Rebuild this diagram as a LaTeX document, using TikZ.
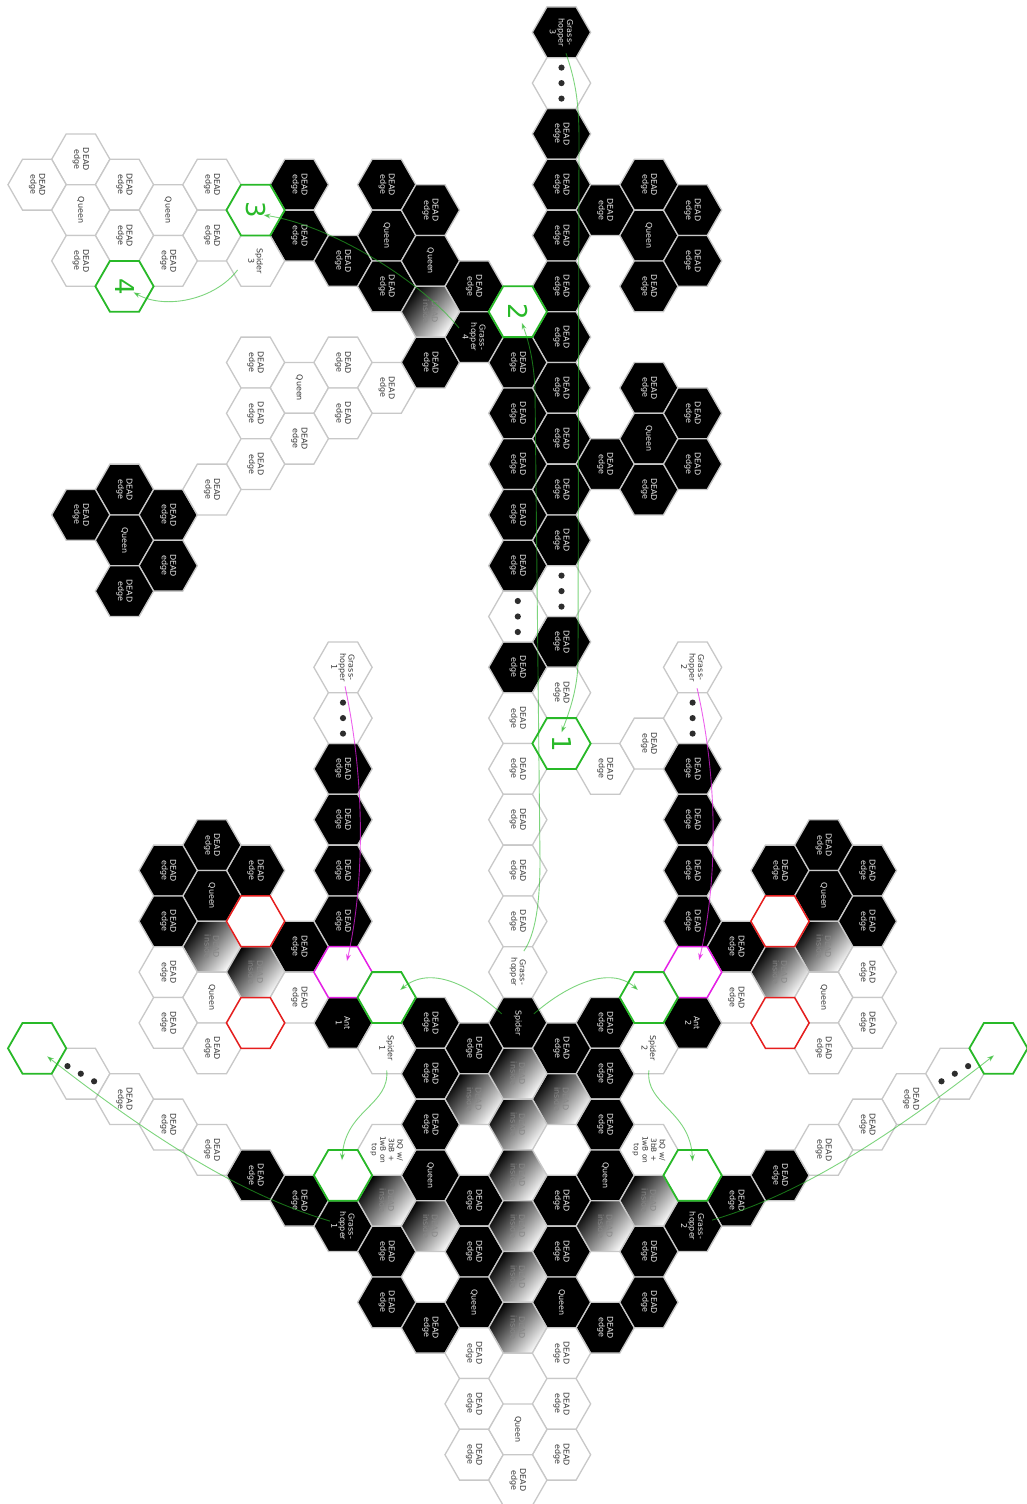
\documentclass[tikz,border=0pt]{standalone}
\usepackage{fontspec}
\setmainfont{DejaVu Sans}
\usetikzlibrary{arrows.meta}
\definecolor{hexgray}{RGB}{200,200,200}
\definecolor{txtgray}{RGB}{55,55,55}
\definecolor{hgreen}{RGB}{40,185,40}
\definecolor{hred}{RGB}{230,30,30}
\definecolor{hmag}{RGB}{230,30,230}
\definecolor{dotc}{RGB}{45,45,45}
\definecolor{insidetxt}{RGB}{135,135,135}
\newcommand\lblfont{\fontsize{8}{8.6}\selectfont}
\newcommand\smallfont{\fontsize{7.4}{7.9}\selectfont}
\newcommand\bignum{\fontsize{26}{26}\selectfont}
\newcommand\DE{DEAD\\edge}
\newcommand\DI{DEAD\\inside}
\newcommand\hexcell[4]{%
 \pgfmathsetmacro\hcX{561.5+43.7*(#1)}%
 \pgfmathsetmacro\hcY{32.3+25.4*(#2)}%
 \path[#3] (\hcX-29.13,\hcY) -- (\hcX-14.57,\hcY-25.4) -- (\hcX+14.57,\hcY-25.4) -- (\hcX+29.13,\hcY) -- (\hcX+14.57,\hcY+25.4) -- (\hcX-14.57,\hcY+25.4) -- cycle;
 \node[lbl,#3 lbl] (h#1y#2) at (\hcX,\hcY) {#4};
}
\newcommand\dotsvert[1]{\foreach \dd in {-15.5,0,15.5} {\fill[dotc] ([yshift=\dd pt]#1.center) circle (3.1);}}
\newcommand\dotsdiag[3]{\foreach \kk in {-1,0,1} {\fill[dotc] ([shift={(\kk*#2,\kk*#3)}]#1.center) circle (3.1);}}
\tikzset{
 lbl/.style={rotate=-90, align=center, inner sep=0pt, font=\lblfont},
 blk/.style={fill=black, draw=hexgray, line width=1.3pt},
 blk lbl/.style={text=white!92!black},
 wht/.style={fill=white, draw=hexgray, line width=1.3pt},
 wht lbl/.style={text=txtgray},
 grd/.style={draw=hexgray, line width=1.3pt, top color=black, middle color=black!70, bottom color=white, shading angle=50},
 grd lbl/.style={text=insidetxt},
 grn/.style={fill=white, draw=hgreen, line width=1.8pt},
 grn lbl/.style={text=hgreen, font=\bignum},
 rdx/.style={fill=white, draw=hred, line width=1.5pt},
 rdx lbl/.style={},
 mgx/.style={fill=white, draw=hmag, line width=1.5pt},
 mgx lbl/.style={},
 garrow/.style={draw=hgreen, opacity=0.6, line width=0.9pt, -{Stealth[length=7pt,width=5pt]}},
 marrow/.style={draw=hmag, opacity=0.7, line width=0.9pt, -{Stealth[length=7pt,width=5pt]}},
}
\begin{document}
\begin{tikzpicture}[x=1pt,y=-1pt]
\fill[white] (0,0) rectangle (1026,1504);
\useasboundingbox (0,0) rectangle (1026,1504);
% ---------- black hexes ----------
\hexcell{0}{0}{blk}{Grass-\\hopper\\3}
\foreach \yy in {4,6,...,20,24} {\hexcell{0}{\yy}{blk}{\DE}}
\foreach \yy in {13,15,...,21,25} {\hexcell{-1}{\yy}{blk}{\DE}}
\hexcell{1}{7}{blk}{\DE}
\hexcell{2}{6}{blk}{\DE}
\hexcell{2}{8}{blk}{Queen}
\hexcell{2}{10}{blk}{\DE}
\hexcell{3}{7}{blk}{\DE}
\hexcell{3}{9}{blk}{\DE}
\hexcell{1}{17}{blk}{\DE}
\hexcell{2}{14}{blk}{\DE}
\hexcell{2}{16}{blk}{Queen}
\hexcell{2}{18}{blk}{\DE}
\hexcell{3}{15}{blk}{\DE}
\hexcell{3}{17}{blk}{\DE}
\hexcell{-6}{6}{blk}{\DE}
\hexcell{-6}{8}{blk}{\DE}
\hexcell{-5}{9}{blk}{\DE}
\hexcell{-4}{6}{blk}{\DE}
\hexcell{-4}{8}{blk}{Queen}
\hexcell{-4}{10}{blk}{\DE}
\hexcell{-3}{7}{blk}{\DE}
\hexcell{-3}{9}{blk}{Queen}
\hexcell{-3}{13}{blk}{\DE}
\hexcell{-2}{10}{blk}{\DE}
\hexcell{-2}{12}{blk}{Grass-\\hopper\\4}
\hexcell{-10}{18}{blk}{\DE}
\hexcell{-11}{19}{blk}{\DE}
\hexcell{-9}{19}{blk}{\DE}
\hexcell{-10}{20}{blk}{Queen}
\hexcell{-9}{21}{blk}{\DE}
\hexcell{-10}{22}{blk}{\DE}
\foreach \yy in {29,31,33,35} {\hexcell{-5}{\yy}{blk}{\DE}\hexcell{3}{\yy}{blk}{\DE}}
\hexcell{-5}{39}{blk}{Ant\\1}
\hexcell{3}{39}{blk}{Ant\\2}
\hexcell{-6}{36}{blk}{\DE}
\hexcell{-7}{33}{blk}{\DE}
\hexcell{-8}{32}{blk}{\DE}
\hexcell{-8}{34}{blk}{Queen}
\hexcell{-9}{33}{blk}{\DE}
\hexcell{-9}{35}{blk}{\DE}
\hexcell{4}{36}{blk}{\DE}
\hexcell{5}{33}{blk}{\DE}
\hexcell{6}{32}{blk}{\DE}
\hexcell{6}{34}{blk}{Queen}
\hexcell{7}{33}{blk}{\DE}
\hexcell{7}{35}{blk}{\DE}
\hexcell{-7}{45}{blk}{\DE}
\hexcell{-6}{46}{blk}{\DE}
\hexcell{-5}{47}{blk}{Grass-\\hopper\\1}
\hexcell{5}{45}{blk}{\DE}
\hexcell{4}{46}{blk}{\DE}
\hexcell{3}{47}{blk}{Grass-\\hopper\\2}
\hexcell{-1}{39}{blk}{Spider}
\foreach \yy in {39,41,43,51} {\hexcell{-3}{\yy}{blk}{\DE}\hexcell{1}{\yy}{blk}{\DE}}
\hexcell{-3}{45}{blk}{Queen}
\hexcell{1}{45}{blk}{Queen}
\foreach \yy in {40,46,48} {\hexcell{-2}{\yy}{blk}{\DE}\hexcell{0}{\yy}{blk}{\DE}}
\hexcell{-2}{50}{blk}{Queen}
\hexcell{0}{50}{blk}{Queen}
\foreach \yy in {48,50} {\hexcell{-4}{\yy}{blk}{\DE}\hexcell{2}{\yy}{blk}{\DE}}
% ---------- gradient hexes ----------
\hexcell{-3}{11}{grd}{\DI}
\hexcell{-8}{36}{grd}{\DI}
\hexcell{-7}{37}{grd}{\DI}
\hexcell{6}{36}{grd}{\DI}
\hexcell{5}{37}{grd}{\DI}
\hexcell{-2}{42}{grd}{\DI}
\hexcell{0}{42}{grd}{\DI}
\foreach \yy in {41,43,...,51} {\hexcell{-1}{\yy}{grd}{\DI}}
\hexcell{-4}{46}{grd}{\DI}
\hexcell{-3}{47}{grd}{\DI}
\hexcell{2}{46}{grd}{\DI}
\hexcell{1}{47}{grd}{\DI}
% ---------- white hexes ----------
\hexcell{0}{2}{wht}{}
\hexcell{0}{22}{wht}{}
\hexcell{0}{26}{wht}{\DE}
\hexcell{-1}{23}{wht}{}
\foreach \yy in {27,29,...,35} {\hexcell{-1}{\yy}{wht}{\DE}}
\hexcell{-1}{37}{wht}{Grass-\\hopper}
\hexcell{1}{29}{wht}{\DE}
\hexcell{2}{28}{wht}{\DE}
\hexcell{-11}{5}{wht}{\DE}
\hexcell{-12}{6}{wht}{\DE}
\hexcell{-10}{6}{wht}{\DE}
\hexcell{-11}{7}{wht}{Queen}
\hexcell{-9}{7}{wht}{Queen}
\hexcell{-10}{8}{wht}{\DE}
\hexcell{-11}{9}{wht}{\DE}
\hexcell{-8}{6}{wht}{\DE}
\hexcell{-8}{8}{wht}{\DE}
\hexcell{-9}{9}{wht}{\DE}
\hexcell{-7}{9}{wht}{Spider\\3}
\hexcell{-7}{13}{wht}{\DE}
\hexcell{-5}{13}{wht}{\DE}
\hexcell{-6}{14}{wht}{Queen}
\hexcell{-4}{14}{wht}{\DE}
\hexcell{-7}{15}{wht}{\DE}
\hexcell{-5}{15}{wht}{\DE}
\hexcell{-6}{16}{wht}{\DE}
\hexcell{-7}{17}{wht}{\DE}
\hexcell{-8}{18}{wht}{\DE}
\hexcell{-5}{25}{wht}{Grass-\\hopper\\1}
\hexcell{-5}{27}{wht}{}
\hexcell{3}{25}{wht}{Grass-\\hopper\\2}
\hexcell{3}{27}{wht}{}
\hexcell{-9}{37}{wht}{\DE}
\hexcell{-8}{38}{wht}{Queen}
\hexcell{-9}{39}{wht}{\DE}
\hexcell{-6}{38}{wht}{\DE}
\hexcell{-8}{40}{wht}{\DE}
\hexcell{7}{37}{wht}{\DE}
\hexcell{6}{38}{wht}{Queen}
\hexcell{7}{39}{wht}{\DE}
\hexcell{4}{38}{wht}{\DE}
\hexcell{6}{40}{wht}{\DE}
\hexcell{-11}{41}{wht}{}
\hexcell{-10}{42}{wht}{\DE}
\hexcell{-9}{43}{wht}{\DE}
\hexcell{-8}{44}{wht}{\DE}
\hexcell{9}{41}{wht}{}
\hexcell{8}{42}{wht}{\DE}
\hexcell{7}{43}{wht}{\DE}
\hexcell{6}{44}{wht}{\DE}
\hexcell{-4}{40}{wht}{Spider\\1}
\hexcell{2}{40}{wht}{Spider\\2}
\hexcell{-4}{44}{wht}{\smallfont bQ w/\\\smallfont 3bB +\\\smallfont 1wB on\\\smallfont top}
\hexcell{2}{44}{wht}{\smallfont bQ w/\\\smallfont 3bB +\\\smallfont 1wB on\\\smallfont top}
\foreach \yy in {52,54,56} {\hexcell{-2}{\yy}{wht}{\DE}\hexcell{0}{\yy}{wht}{\DE}}
\hexcell{-1}{55}{wht}{Queen}
\hexcell{-1}{57}{wht}{\DE}
% dots
\dotsvert{h0y2}
\dotsvert{h0y22}
\dotsvert{h-1y23}
\dotsvert{h-5y27}
\dotsvert{h3y27}
\dotsdiag{h-11y41}{13.3}{7.6}
\dotsdiag{h9y41}{13.3}{-7.6}
% ---------- coloured outlines ----------
\hexcell{-7}{35}{rdx}{}
\hexcell{-7}{39}{rdx}{}
\hexcell{5}{35}{rdx}{}
\hexcell{5}{39}{rdx}{}
\hexcell{-5}{37}{mgx}{}
\hexcell{3}{37}{mgx}{}
\hexcell{0}{28}{grn}{1}
\hexcell{-1}{11}{grn}{2}
\hexcell{-7}{7}{grn}{3}
\hexcell{-10}{10}{grn}{4}
\hexcell{-4}{38}{grn}{}
\hexcell{2}{38}{grn}{}
\hexcell{-5}{45}{grn}{}
\hexcell{3}{45}{grn}{}
\hexcell{-12}{40}{grn}{}
\hexcell{10}{40}{grn}{}
% ---------- connectors ----------
\draw[garrow] ([shift={(-18,9)}]h-7y9.center) .. controls (215,300) and (165,310) .. ([shift={(9,6)}]h-10y10.center);
\draw[garrow] ([shift={(-15,-9)}]h-2y12.center) .. controls (420,280) and (330,225) .. ([shift={(8,5)}]h-7y7.center);
\draw[garrow] ([shift={(4.5,21)}]h0y0.center) .. controls (575,80) and (579,100) .. (579,140) -- (578,660) .. controls (578,690) and (568,715) .. ([shift={(0,-11)}]h0y28.center);
\draw[garrow] ([shift={(6,-21)}]h-1y37.center) .. controls (535,935) and (540,905) .. (540,860) -- (535,390) .. controls (534,365) and (530,345) .. ([shift={(4,11)}]h-1y11.center);
\draw[garrow] ([shift={(-16,-9)}]h-1y39.center) .. controls (470,985) and (430,965) .. ([shift={(13.5,-7.5)}]h-4y38.center);
\draw[garrow] ([shift={(16,-9)}]h-1y39.center) .. controls (567,985) and (610,965) .. ([shift={(-11,-7.5)}]h2y38.center);
\draw[garrow] ([shift={(0,22)}]h-4y40.center) .. controls (390,1105) and (345,1110) .. ([shift={(-1,-15)}]h-5y45.center);
\draw[garrow] ([shift={(0,22)}]h2y40.center) .. controls (645,1105) and (690,1110) .. ([shift={(0,-14)}]h3y45.center);
\draw[garrow] ([shift={(-13,-5)}]h-5y47.center) .. controls (260,1200) and (180,1160) .. ([shift={(10,8)}]h-12y40.center);
\draw[garrow] ([shift={(19.5,-6)}]h3y47.center) .. controls (780,1200) and (860,1160) .. ([shift={(-4.5,7)}]h10y40.center);
\draw[marrow] ([shift={(2,19)}]h-5y25.center) .. controls (365,780) and (365,880) .. ([shift={(4,-11)}]h-5y37.center);
\draw[marrow] ([shift={(4.5,21)}]h3y25.center) .. controls (718,780) and (718,880) .. ([shift={(6.5,-12)}]h3y37.center);
\end{tikzpicture}
\end{document}
